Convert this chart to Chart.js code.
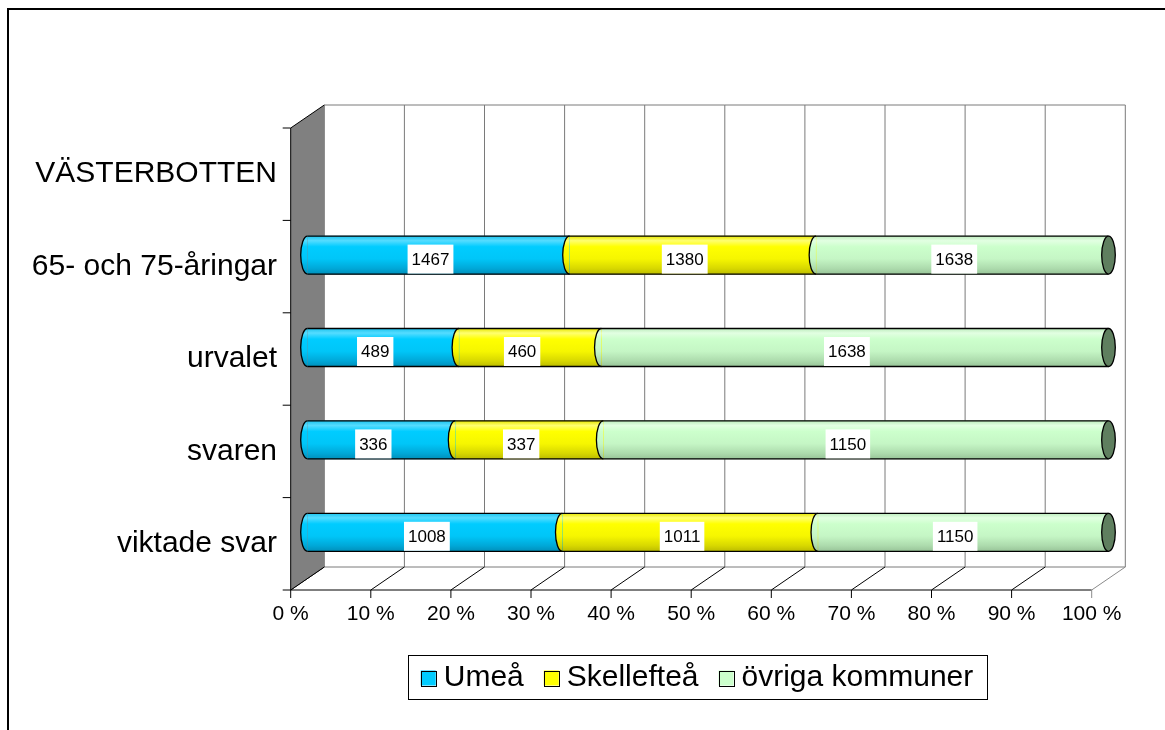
<!DOCTYPE html>
<html>
<head>
<meta charset="utf-8">
<script src="https://cdn.jsdelivr.net/npm/chart.js@4.4.1/dist/chart.umd.min.js"></script>
<style>
  html, body { margin: 0; padding: 0; background: #fff; overflow: hidden; }
  canvas { display: block; }
</style>
</head>
<body>
<canvas id="chart" width="1165" height="730"></canvas>
<script>
// ---- data ----------------------------------------------------------------
const categories = ['VÄSTERBOTTEN', '65- och 75-åringar', 'urvalet', 'svaren', 'viktade svar'];
const seriesNames = ['Umeå', 'Skellefteå', 'övriga kommuner'];
const umea       = [null, 1467, 489, 336, 1008];
const skelleftea = [null, 1380, 460, 337, 1011];
const ovriga     = [null, 1638, 1638, 1150, 1150];
const rawSeries = [umea, skelleftea, ovriga];

// ---- look ----------------------------------------------------------------
const FONT = '"Liberation Sans", Arial, sans-serif';
const BAR = 38;          // cylinder thickness
const RX = 6.8;          // horizontal radius of the cylinder ends
const DX = 16.8, DY = 11.5; // half depth of the 3D box

const palette = [
  { flat: '#00ccff', cap: '#0088aa',
    stops: ['#1ec4ee', '#55dcff', '#00ccff', '#00c6f8', '#00a8d8', '#0090bb'] },
  { flat: '#ffff00', cap: '#999900',
    stops: ['#e6e600', '#ffff70', '#ffff00', '#f6f600', '#d8d800', '#bcbc00'] },
  { flat: '#ccffcc', cap: '#5f7f5f',
    stops: ['#bdecbd', '#e2ffe2', '#ccffcc', '#c5f6c5', '#addbad', '#98c498'] }
];
const stopAt = [0, 0.12, 0.28, 0.6, 0.85, 1];

function gradientFor(ctx2d, d, cy) {
  if (!isFinite(cy)) return palette[d].flat;
  const g = ctx2d.createLinearGradient(0, cy - BAR / 2, 0, cy + BAR / 2);
  palette[d].stops.forEach((c, i) => g.addColorStop(stopAt[i], c));
  return g;
}

// 100 % stacked: share of each row total
const totals = categories.map((c, i) => rawSeries.reduce((s, arr) => s + (arr[i] || 0), 0));
const percent = rawSeries.map(arr => arr.map((v, i) => v == null ? null : v / totals[i] * 100));

/**
 * Draws the Excel-like 3D box, cylinder ends, value labels, legend and frame
 */
const cylinder3d = {
  id: 'cylinder3d',

  beforeDraw(chart) {
    const ctx = chart.ctx;
    ctx.save();
    ctx.fillStyle = '#000';
    ctx.fillRect(7, 8, chart.width, 2);
    ctx.fillRect(7, 8, 2, chart.height);
    ctx.restore();
  },

  beforeDatasetsDraw(chart) {
    const { ctx, chartArea: a, scales: { x, y } } = chart;
    const ticks = x.ticks.map(t => x.getPixelForValue(t.value));
    ctx.save();
    ctx.lineWidth = 1;

    // back wall grid
    ctx.strokeStyle = '#7a7a7a';
    ctx.beginPath();
    ticks.forEach(px => {
      ctx.moveTo(px + DX, a.top - DY);
      ctx.lineTo(px + DX, a.bottom - DY);
    });
    ctx.moveTo(a.left + DX, a.top - DY);
    ctx.lineTo(a.right + DX, a.top - DY);
    ctx.moveTo(a.left + DX, a.bottom - DY);
    ctx.lineTo(a.right + DX, a.bottom - DY);
    ctx.stroke();

    // floor
    ctx.strokeStyle = '#000';
    ctx.beginPath();
    ticks.forEach((px, i) => {
      if (i === ticks.length - 1) return;
      ctx.moveTo(px + DX, a.bottom - DY);
      ctx.lineTo(px - DX, a.bottom + DY);
      ctx.moveTo(px - DX, a.bottom + DY);
      ctx.lineTo(px - DX, a.bottom + DY + 8);
    });
    ctx.moveTo(a.left - DX, a.bottom + DY);
    ctx.lineTo(a.right - DX, a.bottom + DY);
    ctx.stroke();
    ctx.strokeStyle = '#8a8a8a';
    ctx.beginPath();
    ctx.moveTo(a.right + DX, a.bottom - DY);
    ctx.lineTo(a.right - DX, a.bottom + DY);
    ctx.lineTo(a.right - DX, a.bottom + DY + 8);
    ctx.stroke();

    // left side wall
    ctx.fillStyle = '#808080';
    ctx.strokeStyle = '#000';
    ctx.beginPath();
    ctx.moveTo(a.left - DX, a.top + DY);
    ctx.lineTo(a.left + DX, a.top - DY);
    ctx.lineTo(a.left + DX, a.bottom - DY);
    ctx.lineTo(a.left - DX, a.bottom + DY);
    ctx.closePath();
    ctx.fill();
    ctx.beginPath();
    ctx.moveTo(a.left + DX, a.top - DY);
    ctx.lineTo(a.left - DX, a.top + DY);
    ctx.lineTo(a.left - DX, a.bottom + DY);
    ctx.lineTo(a.left + DX, a.bottom - DY);
    // category ticks on the front edge
    const band = (a.bottom - a.top) / categories.length;
    for (let i = 0; i <= categories.length; i++) {
      const py = a.top + i * band + DY;
      ctx.moveTo(a.left - DX - 8, py);
      ctx.lineTo(a.left - DX, py);
    }
    ctx.stroke();
    ctx.restore();
  },

  afterDatasetsDraw(chart) {
    const ctx = chart.ctx;
    ctx.save();
    ctx.lineWidth = 1.3;
    ctx.strokeStyle = '#000';

    categories.forEach((c, i) => {
      const segs = chart.data.datasets
        .map((ds, d) => ({ d, el: chart.getDatasetMeta(d).data[i], raw: rawSeries[d][i] }))
        .filter(s => s.raw != null && s.el);
      if (!segs.length) return;

      const first = segs[0].el, last = segs[segs.length - 1].el;
      const cy = first.y, ry = first.height / 2;

      // left end of each segment: front half of an ellipse
      segs.forEach(s => {
        const bx = s.el.base;
        ctx.beginPath();
        ctx.ellipse(bx, cy, RX, ry, 0, Math.PI / 2, Math.PI * 1.5);
        ctx.closePath();
        ctx.fillStyle = gradientFor(ctx, s.d, cy);
        ctx.fill();
        ctx.beginPath();
        ctx.ellipse(bx, cy, RX, ry, 0, Math.PI / 2, Math.PI * 1.5);
        ctx.stroke();
      });

      // outline
      ctx.beginPath();
      ctx.moveTo(first.base, cy - ry);
      ctx.lineTo(last.x, cy - ry);
      ctx.moveTo(first.base, cy + ry);
      ctx.lineTo(last.x, cy + ry);
      ctx.stroke();

      // right cap
      ctx.beginPath();
      ctx.ellipse(last.x, cy, RX, ry, 0, 0, Math.PI * 2);
      ctx.fillStyle = palette[segs[segs.length - 1].d].cap;
      ctx.fill();
      ctx.stroke();

      // value labels
      ctx.font = `17px ${FONT}`;
      ctx.textAlign = 'center';
      ctx.textBaseline = 'middle';
      segs.forEach(s => {
        const txt = String(s.raw);
        const w = ctx.measureText(txt).width + 8;
        const lx = (s.el.base + s.el.x) / 2 - 8;
        const ly = cy + 4;
        ctx.fillStyle = '#fff';
        ctx.fillRect(lx - w / 2, ly - 14.5, w, 29);
        ctx.fillStyle = '#000';
        ctx.fillText(txt, lx, ly + 1);
      });
    });
    ctx.restore();
  },

  afterDraw(chart) {
    const { ctx, chartArea: a } = chart;
    ctx.save();
    ctx.font = `30px ${FONT}`;
    const sq = 15, gapSq = 8, gapItem = 20, padX = 13;
    const widths = seriesNames.map(n => ctx.measureText(n).width);
    const total = padX * 2 + widths.reduce((s, w) => s + sq + gapSq + w, 0) + gapItem * (seriesNames.length - 1);
    const boxTop = a.bottom + 76.5, boxH = 44;
    const x0 = (a.left + a.right) / 2 - 11 - total / 2;

    ctx.fillStyle = '#fff';
    ctx.fillRect(x0, boxTop, total, boxH);
    ctx.strokeStyle = '#000';
    ctx.lineWidth = 1;
    ctx.strokeRect(Math.round(x0) + 0.5, Math.round(boxTop) + 0.5, Math.round(total), boxH);

    let cx = x0 + padX;
    const my = boxTop + boxH / 2;
    ctx.textBaseline = 'middle';
    ctx.textAlign = 'left';
    seriesNames.forEach((n, d) => {
      ctx.fillStyle = palette[d].flat;
      ctx.fillRect(cx, my - sq / 2 + 1, sq, sq);
      ctx.strokeRect(Math.round(cx) + 0.5, Math.round(my - sq / 2 + 1) + 0.5, sq, sq);
      cx += sq + gapSq;
      ctx.fillStyle = '#000';
      ctx.fillText(n, cx, my + 1);
      cx += widths[d] + gapItem;
    });
    ctx.restore();
  }
};

new Chart(document.getElementById('chart'), {
  type: 'bar',
  data: {
    labels: categories,
    datasets: seriesNames.map((name, d) => ({
      label: name,
      data: percent[d],
      barThickness: BAR,
      borderWidth: 0,
      backgroundColor: (c) => {
        const ys = c.chart.scales.y;
        if (c.type !== 'data' || !ys) return palette[d].flat;
        return gradientFor(c.chart.ctx, d, ys.getPixelForValue(c.dataIndex));
      }
    }))
  },
  options: {
    indexAxis: 'y',
    responsive: false,
    devicePixelRatio: 1,
    animation: false,
    layout: { padding: { left: 0, right: 56.5, top: 116.5, bottom: 91.5 } },
    scales: {
      x: {
        stacked: true,
        min: 0,
        max: 100,
        grid: { display: false, drawTicks: false },
        border: { display: false },
        ticks: {
          stepSize: 10,
          autoSkip: false,
          maxRotation: 0,
          labelOffset: -DX,
          padding: 23,
          color: '#000',
          font: { family: FONT, size: 21 },
          callback: v => v + ' %'
        },
        afterFit: s => { s.height = 60; }
      },
      y: {
        stacked: true,
        grid: { display: false, drawTicks: false },
        border: { display: false },
        ticks: {
          labelOffset: DY,
          padding: 30.5,
          color: '#000',
          font: { family: FONT, size: 30 }
        },
        afterFit: s => { s.width = 307.5; }
      }
    },
    plugins: {
      legend: { display: false },
      tooltip: { enabled: false }
    }
  },
  plugins: [cylinder3d]
});
</script>
</body>
</html>
